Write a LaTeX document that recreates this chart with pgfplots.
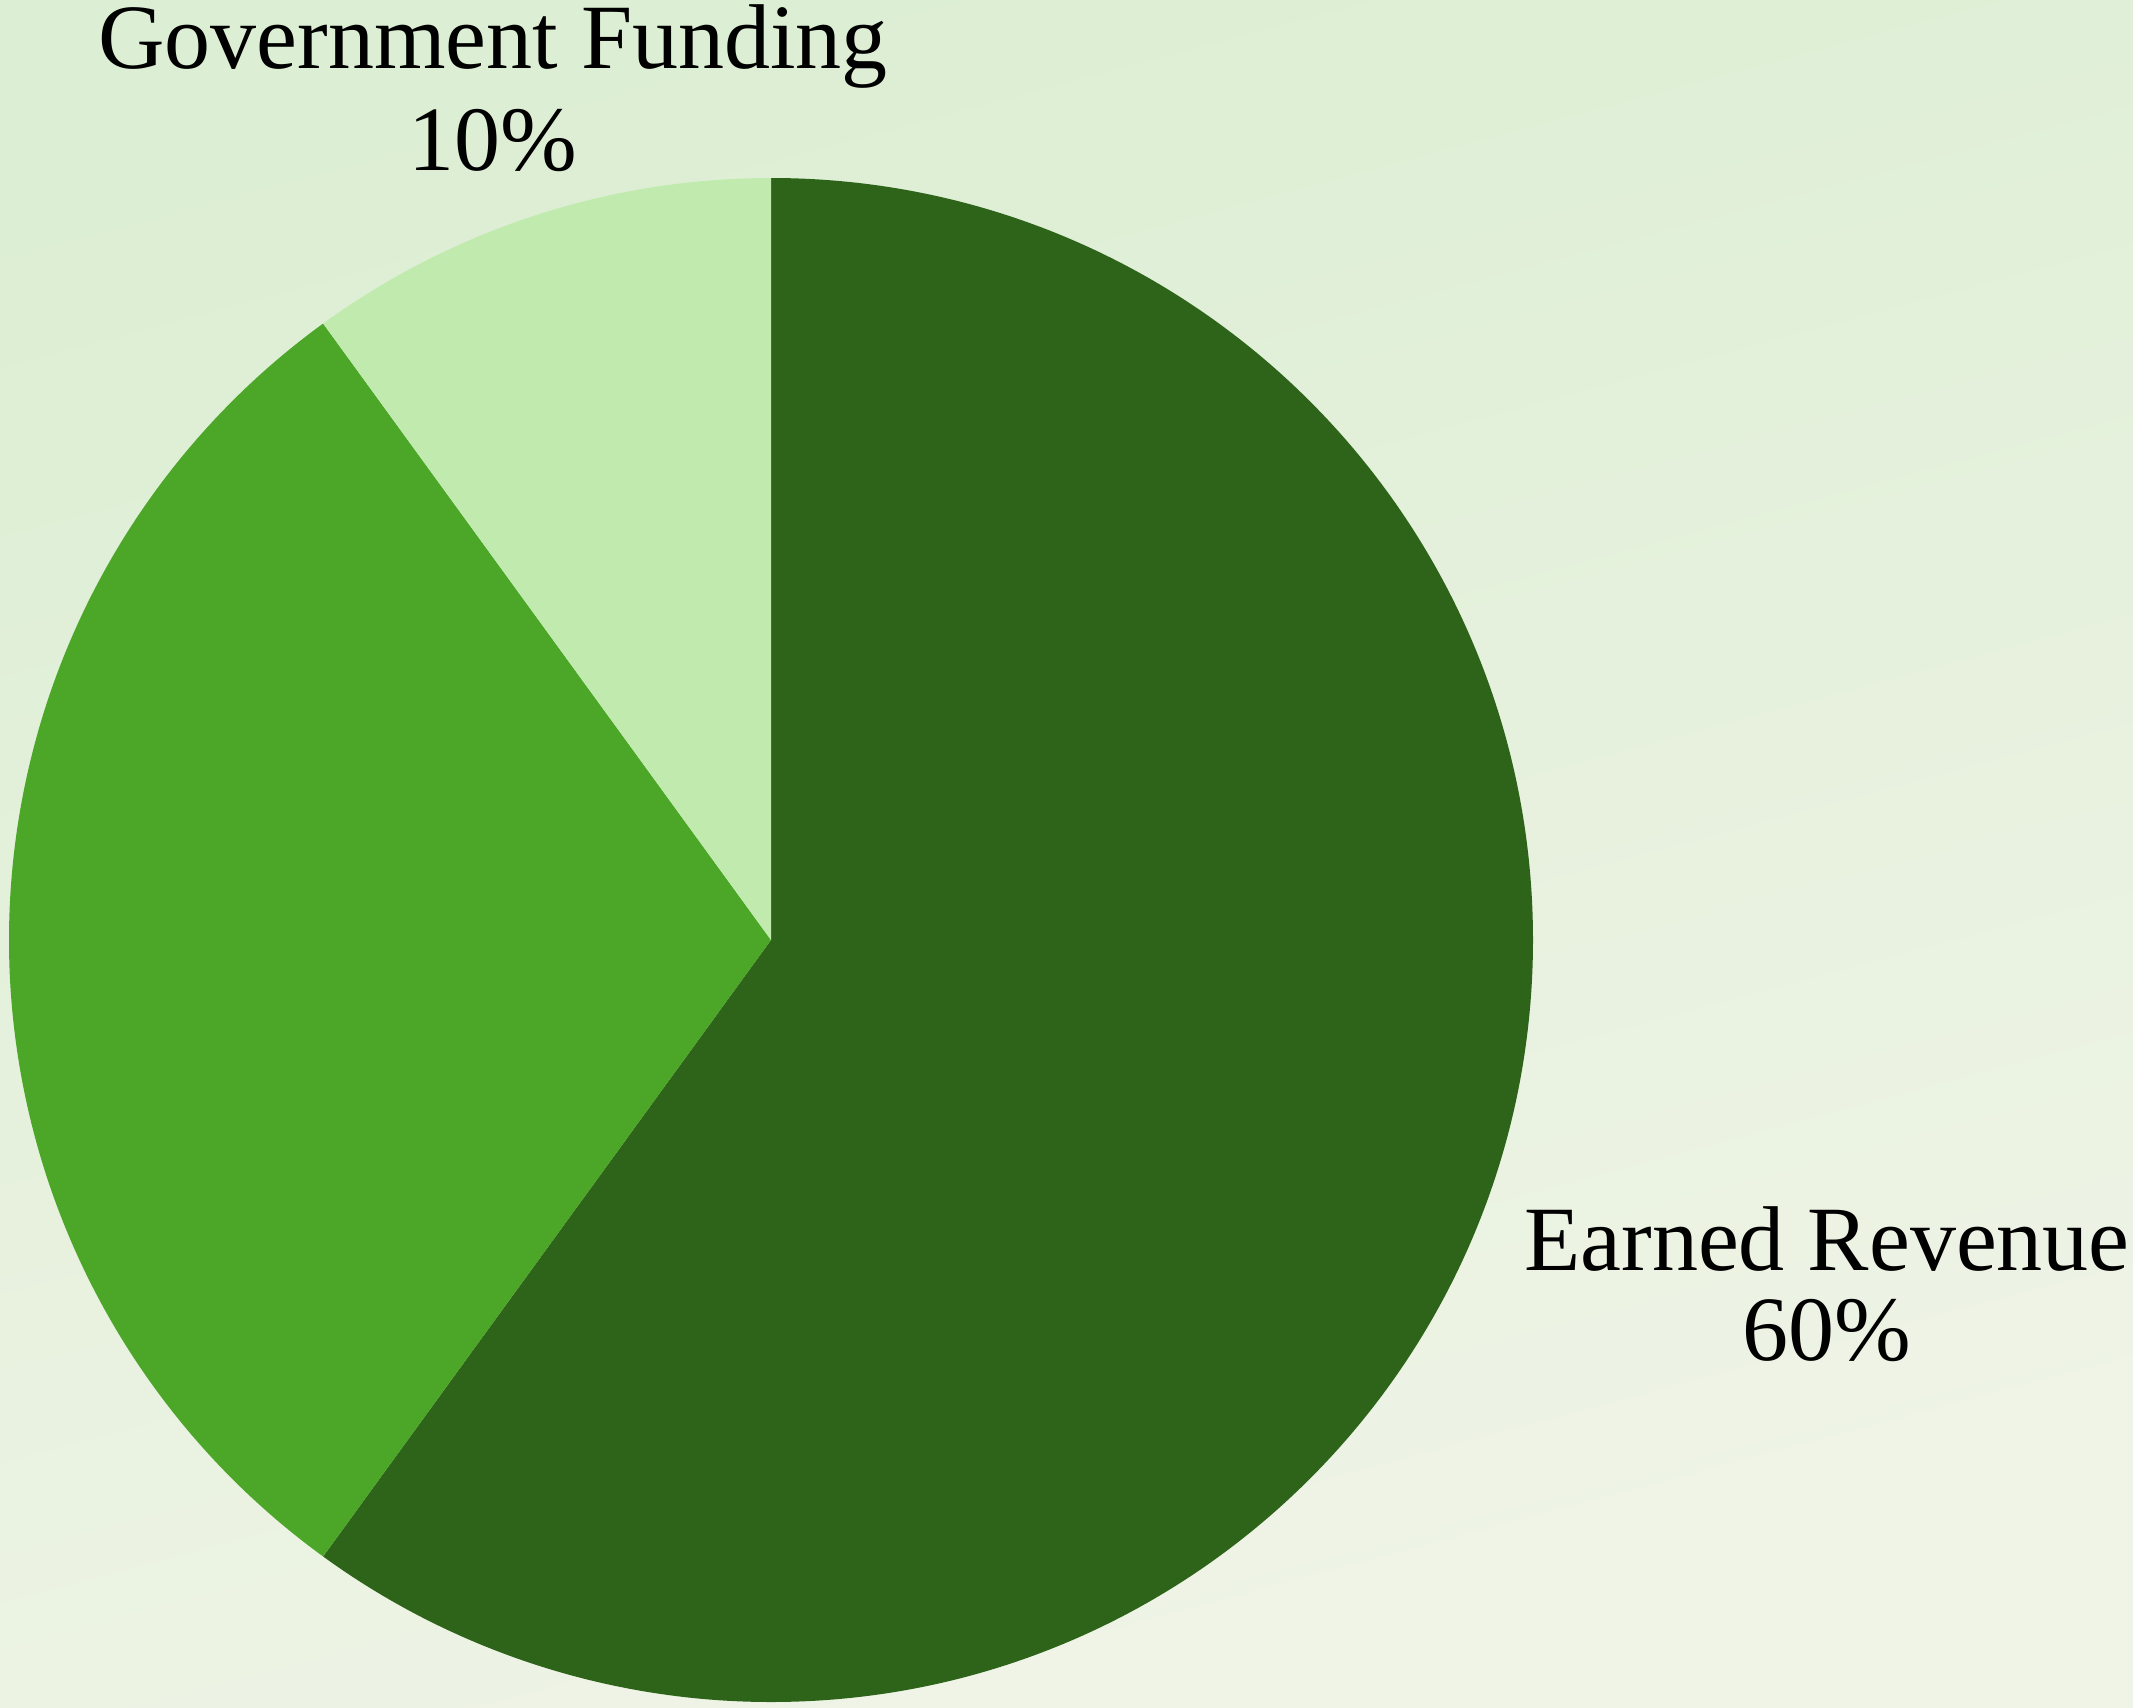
\documentclass[border=0pt]{standalone}
\usepackage{pgfplots}
\pgfplotsset{compat=1.18}
\usepackage{pgfplotstable}
\usepackage{fontspec}
\setmainfont{Liberation Serif}

\definecolor{cdark}{HTML}{2E6419}
\definecolor{cmid}{HTML}{4CA628}
\definecolor{clight}{HTML}{C1EBAE}
\definecolor{bgtop}{HTML}{DCEED3}
\definecolor{bgbot}{HTML}{F0F4E7}

% slices clockwise from 12 o'clock
\pgfplotstableread{
label value color
Earned 60 cdark
Private 30 cmid
Government 10 clight
}\piedata

\begin{document}
\begin{tikzpicture}
\begin{axis}[
    width=533.25pt, height=426.75pt,
    scale only axis,
    hide axis,
    xmin=0, xmax=2133,
    ymin=0, ymax=1707,
    clip=false,
]
    \shade[top color=bgtop, bottom color=bgbot, shading angle=15]
        (axis cs:0,0) rectangle (axis cs:2133,1707);

    \def\cx{771}\def\cy{767}
    \def\R{190.5pt}
    \def\a{90}
    \pgfplotsforeachungrouped \i in {0,1,2}{
        \pgfplotstablegetelem{\i}{value}\of\piedata \let\v\pgfplotsretval
        \pgfplotstablegetelem{\i}{color}\of\piedata \let\c\pgfplotsretval
        \pgfmathsetmacro\b{\a-3.6*\v}
        \edef\temp{\noexpand\fill[\c] (axis cs:\cx,\cy) -- ++(\a:\R)
            arc[start angle=\a, end angle=\b, radius=\R] -- cycle;}
        \temp
        \global\let\a\b
    }

    \node[anchor=base, font=\fontsize{23}{28}\selectfont]
        at (axis cs:493,1639) {Government Funding};
    \node[anchor=base, font=\fontsize{23}{28}\selectfont]
        at (axis cs:493,1537) {10\%};
    \node[anchor=base, font=\fontsize{23}{28}\selectfont]
        at (axis cs:1827,437) {Earned Revenue};
    \node[anchor=base, font=\fontsize{23}{28}\selectfont]
        at (axis cs:1827,347) {60\%};
\end{axis}
\pgfresetboundingbox
\useasboundingbox (0,0) rectangle (533.25pt,426.75pt);
\end{tikzpicture}
\end{document}
